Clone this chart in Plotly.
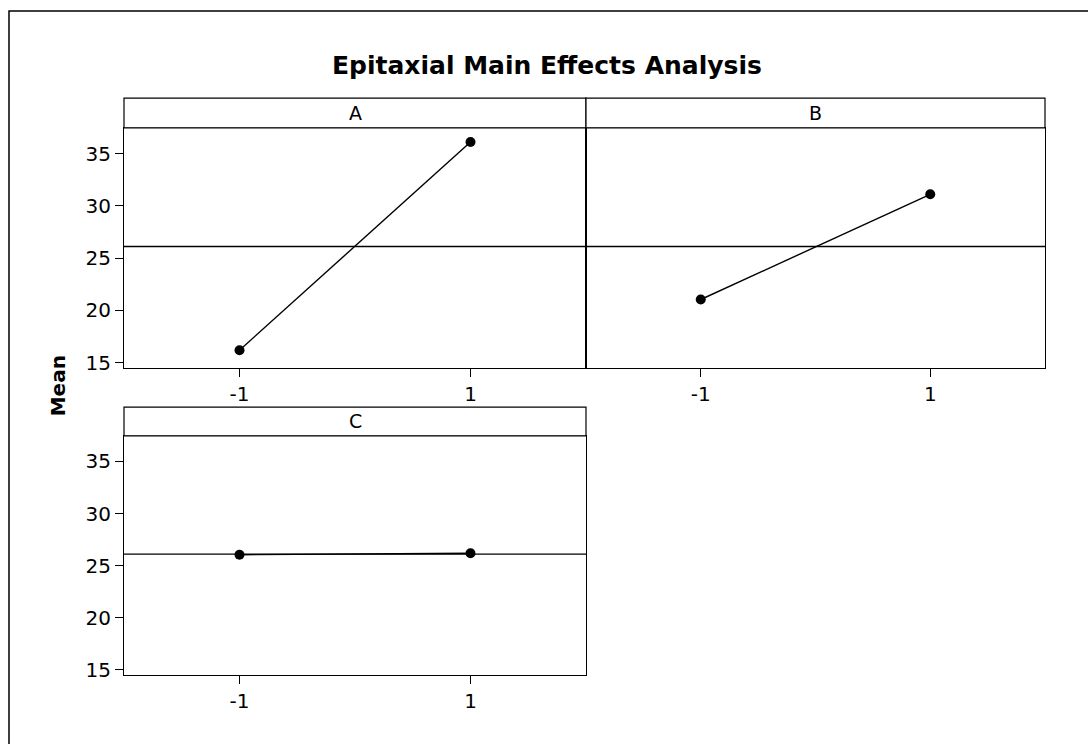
import plotly.graph_objects as go

# ---- data ----
factors = ["A", "B", "C"]
levels = [-1, 1]
level_labels = ["-1", "1"]
means_A = [16.2, 36.1]
means_B = [21.05, 31.1]
means_C = [26.05, 26.2]
y_ticks = [15, 20, 25, 30, 35]

all_means = means_A + means_B + means_C
grand_mean = sum(all_means) / len(all_means)

W, H = 1088, 744
def fx(p):
    return p / W
def fy(p):
    return 1 - p / H

# panel geometry in pixels: left, right, strip top, plot top, plot bottom
geom = {
    "A": (124, 586, 99, 129, 371),
    "B": (586, 1045, 99, 129, 371),
    "C": (124, 586, 411, 440, 681),
}
series = {"A": means_A, "B": means_B, "C": means_C}
y_range = [14.55, 37.46]

fig = go.Figure()
shapes = []
annotations = []
tickfont = dict(family="DejaVu Sans", size=20, color="black")

for i, f in enumerate(factors, start=1):
    l, r, st, pt, pb = geom[f]
    xa = "xaxis" if i == 1 else f"xaxis{i}"
    ya = "yaxis" if i == 1 else f"yaxis{i}"
    xr = "x" if i == 1 else f"x{i}"
    yr = "y" if i == 1 else f"y{i}"
    fig.add_trace(go.Scatter(
        x=levels, y=series[f], mode="lines+markers",
        line=dict(color="black", width=1.4),
        marker=dict(color="black", size=10),
        xaxis=xr, yaxis=yr, showlegend=False, cliponaxis=False))
    fig.layout[xa] = dict(
        domain=[fx(l), fx(r)], anchor=yr, range=[-2, 2],
        tickvals=levels, ticktext=level_labels,
        showline=True, mirror=True, linecolor="black", linewidth=1.2,
        ticks="outside", ticklen=8, tickcolor="black", tickfont=tickfont,
        showgrid=False, zeroline=False, fixedrange=True)
    show_y = f != "B"
    fig.layout[ya] = dict(
        domain=[fy(pb), fy(pt)], anchor=xr, range=y_range,
        tickvals=y_ticks, showticklabels=show_y,
        ticks="outside" if show_y else "", ticklen=8, tickcolor="black",
        tickfont=tickfont,
        showline=True, mirror=True, linecolor="black", linewidth=1.2,
        showgrid=False, zeroline=False, fixedrange=True)
    # grand mean reference line
    shapes.append(dict(type="line", xref=f"{xr} domain", yref=yr,
                       x0=0, x1=1, y0=grand_mean, y1=grand_mean,
                       line=dict(color="black", width=1.3)))
    # strip
    shapes.append(dict(type="rect", xref="paper", yref="paper",
                       x0=fx(l), x1=fx(r), y0=fy(pt), y1=fy(st),
                       line=dict(color="black", width=1.2), fillcolor="white"))
    annotations.append(dict(text=f, xref="paper", yref="paper",
                            x=fx((l + r) / 2), y=fy((st + pt) / 2),
                            xanchor="center", yanchor="middle", showarrow=False,
                            font=dict(family="DejaVu Sans", size=19, color="black")))

# outer frame (top and left visible)
shapes.append(dict(type="rect", xref="paper", yref="paper",
                   x0=fx(9), x1=fx(1110), y0=fy(770), y1=fy(11),
                   line=dict(color="black", width=1.5)))

annotations.append(dict(text="<b>Epitaxial Main Effects Analysis</b>",
                        xref="paper", yref="paper", x=fx(547), y=fy(66),
                        xanchor="center", yanchor="middle", showarrow=False,
                        font=dict(family="DejaVu Sans", size=25, color="black")))
annotations.append(dict(text="<b>Mean</b>", xref="paper", yref="paper",
                        x=fx(58), y=fy(390), textangle=-90,
                        xanchor="center", yanchor="middle", showarrow=False,
                        font=dict(family="DejaVu Sans", size=20, color="black")))

fig.update_layout(
    width=W, height=H, margin=dict(l=0, r=0, t=0, b=0),
    paper_bgcolor="white", plot_bgcolor="white",
    shapes=shapes, annotations=annotations, showlegend=False)

fig.write_html("out.html")
